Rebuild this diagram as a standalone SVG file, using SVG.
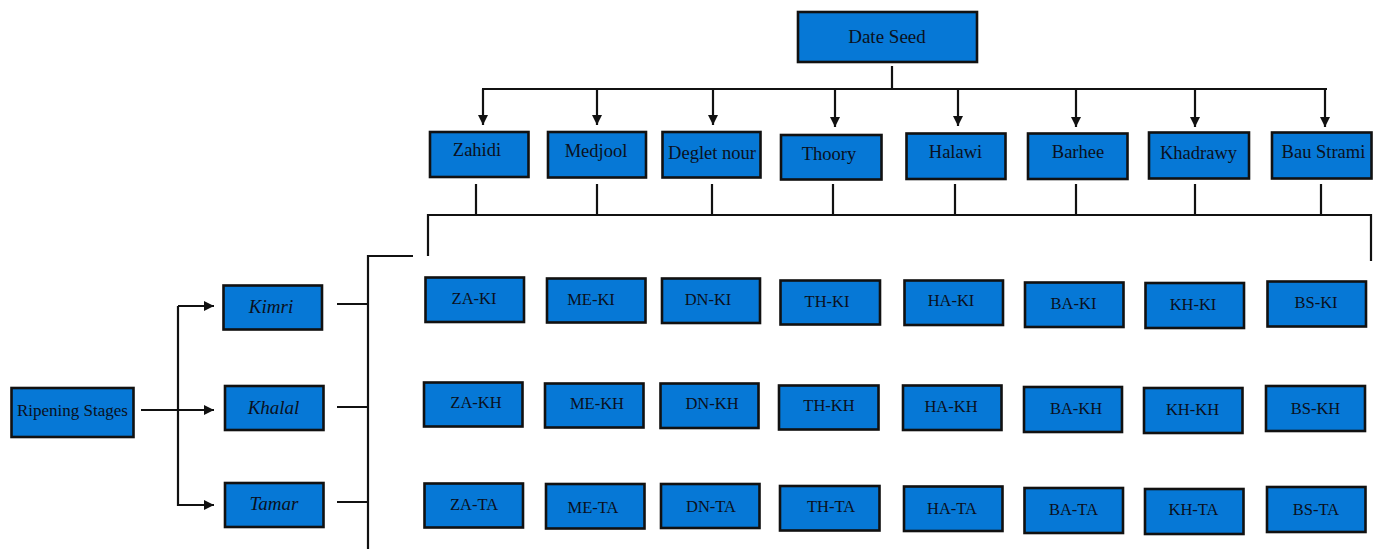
<svg xmlns="http://www.w3.org/2000/svg" width="1378" height="549" viewBox="0 0 1378 549">
<style>
.box{fill:#0678d6;stroke:#111;stroke-width:2.6}
.t{font-family:"Liberation Serif","Times New Roman",serif;fill:#0a1020;text-anchor:middle}
.v{font-size:18.5px}
.g{font-size:16.5px}
.s{font-size:19px;font-style:italic}
.ln{stroke:#111;stroke-width:2.2;fill:none}
</style>
<defs>
<marker id="ah" viewBox="0 0 10 10" refX="10" refY="5" markerWidth="10" markerHeight="10" markerUnits="userSpaceOnUse" orient="auto">
<path d="M0,0 L10,5 L0,10 Z" fill="#111"/>
</marker>
</defs>
<g id="connectors">
<path class="ln" d="M892,66 V89 M482,89 H1327"/>
<path class="ln" marker-end="url(#ah)" d="M483,89 V125"/>
<path class="ln" marker-end="url(#ah)" d="M597,89 V125"/>
<path class="ln" marker-end="url(#ah)" d="M713,89 V125"/>
<path class="ln" marker-end="url(#ah)" d="M835,89 V127"/>
<path class="ln" marker-end="url(#ah)" d="M958,89 V126"/>
<path class="ln" marker-end="url(#ah)" d="M1076,89 V127"/>
<path class="ln" marker-end="url(#ah)" d="M1195,89 V127"/>
<path class="ln" marker-end="url(#ah)" d="M1325,89 V127"/>
<path class="ln" d="M476,184 V215 M597,184 V215 M712,184 V215 M833,184 V215 M955,184 V215 M1076,184 V215 M1195,184 V215 M1321,184 V215"/>
<path class="ln" d="M428,256 V215 H1371 V261"/>
<path class="ln" d="M141,410 H178"/>
<path class="ln" marker-end="url(#ah)" d="M178,410 H214"/>
<path class="ln" marker-end="url(#ah)" d="M178,306 V505 H214"/>
<path class="ln" marker-end="url(#ah)" d="M178,306 H214"/>
<path class="ln" d="M337,304 H368 M337,407 H368 M337,502 H368 M413,256 H368 V549"/>
</g>
<g id="date-seed"><rect class="box" x="798" y="12" width="179" height="50"/><text class="t" x="887" y="43" font-size="19">Date Seed</text></g>
<g id="zahidi"><rect class="box" x="430" y="132" width="98.5" height="45"/><text class="t v" x="477" y="156">Zahidi</text></g>
<g id="medjool"><rect class="box" x="548" y="132" width="98" height="45.5"/><text class="t v" x="596" y="157">Medjool</text></g>
<g id="deglet-nour"><rect class="box" x="662.5" y="132" width="98" height="45.5"/><text class="t v" x="712" y="159">Deglet nour</text></g>
<g id="thoory"><rect class="box" x="781" y="135" width="100.5" height="44.5"/><text class="t v" x="829" y="160">Thoory</text></g>
<g id="halawi"><rect class="box" x="906.5" y="133.5" width="99" height="45.5"/><text class="t v" x="955.5" y="158">Halawi</text></g>
<g id="barhee"><rect class="box" x="1028" y="133.5" width="99.5" height="45.5"/><text class="t v" x="1078" y="158">Barhee</text></g>
<g id="khadrawy"><rect class="box" x="1149" y="132.5" width="100" height="46"/><text class="t v" x="1198.5" y="159">Khadrawy</text></g>
<g id="bau-strami"><rect class="box" x="1272" y="132.5" width="99.5" height="46"/><text class="t v" x="1323.5" y="158">Bau Strami</text></g>
<g id="ripening-stages"><rect class="box" x="11.5" y="388" width="122" height="49"/><text class="t" x="72.5" y="415.5" font-size="17">Ripening Stages</text></g>
<g id="kimri"><rect class="box" x="223.5" y="285.5" width="98.5" height="44"/><text class="t s" x="271" y="313">Kimri</text></g>
<g id="khalal"><rect class="box" x="225" y="386" width="98.5" height="44"/><text class="t s" x="273.5" y="414">Khalal</text></g>
<g id="tamar"><rect class="box" x="225" y="483" width="98.5" height="44"/><text class="t s" x="274" y="510">Tamar</text></g>
<g id="za-ki"><rect class="box" x="425.5" y="277.5" width="98.5" height="44.5"/><text class="t g" x="474" y="304">ZA-KI</text></g>
<g id="me-ki"><rect class="box" x="547" y="278.5" width="98.5" height="44"/><text class="t g" x="591" y="305">ME-KI</text></g>
<g id="dn-ki"><rect class="box" x="662" y="278.5" width="98" height="44.5"/><text class="t g" x="708" y="305">DN-KI</text></g>
<g id="th-ki"><rect class="box" x="780.5" y="280.5" width="99.5" height="44"/><text class="t g" x="827" y="307">TH-KI</text></g>
<g id="ha-ki"><rect class="box" x="904.5" y="280.5" width="98.5" height="44.5"/><text class="t g" x="951" y="306">HA-KI</text></g>
<g id="ba-ki"><rect class="box" x="1025" y="282.5" width="98.5" height="44.5"/><text class="t g" x="1073.5" y="309">BA-KI</text></g>
<g id="kh-ki"><rect class="box" x="1145.5" y="283" width="98.5" height="45"/><text class="t g" x="1193" y="310">KH-KI</text></g>
<g id="bs-ki"><rect class="box" x="1267.5" y="281.5" width="98.5" height="45"/><text class="t g" x="1316" y="308">BS-KI</text></g>
<g id="za-kh"><rect class="box" x="424" y="382.5" width="98.5" height="44"/><text class="t g" x="476" y="408">ZA-KH</text></g>
<g id="me-kh"><rect class="box" x="545" y="383.5" width="98.5" height="44"/><text class="t g" x="597" y="409">ME-KH</text></g>
<g id="dn-kh"><rect class="box" x="660.5" y="383.5" width="98" height="44.5"/><text class="t g" x="712" y="409">DN-KH</text></g>
<g id="th-kh"><rect class="box" x="779" y="385.5" width="99.5" height="44"/><text class="t g" x="829" y="411">TH-KH</text></g>
<g id="ha-kh"><rect class="box" x="903" y="385.5" width="98.5" height="44.5"/><text class="t g" x="951" y="412">HA-KH</text></g>
<g id="ba-kh"><rect class="box" x="1024" y="387" width="98" height="45"/><text class="t g" x="1076" y="414">BA-KH</text></g>
<g id="kh-kh"><rect class="box" x="1144" y="388" width="98.5" height="45"/><text class="t g" x="1192.5" y="415">KH-KH</text></g>
<g id="bs-kh"><rect class="box" x="1266" y="386" width="99" height="45"/><text class="t g" x="1315.5" y="414">BS-KH</text></g>
<g id="za-ta"><rect class="box" x="424.5" y="483.5" width="98.5" height="44"/><text class="t g" x="474" y="510">ZA-TA</text></g>
<g id="me-ta"><rect class="box" x="546" y="484" width="98.5" height="44.5"/><text class="t g" x="593" y="513">ME-TA</text></g>
<g id="dn-ta"><rect class="box" x="661" y="484" width="98.5" height="44"/><text class="t g" x="711" y="512">DN-TA</text></g>
<g id="th-ta"><rect class="box" x="780" y="486" width="99.5" height="44.5"/><text class="t g" x="831" y="512">TH-TA</text></g>
<g id="ha-ta"><rect class="box" x="904" y="486.5" width="98.5" height="44.5"/><text class="t g" x="952" y="514">HA-TA</text></g>
<g id="ba-ta"><rect class="box" x="1024.5" y="488" width="98.5" height="45"/><text class="t g" x="1073.5" y="515">BA-TA</text></g>
<g id="kh-ta"><rect class="box" x="1145" y="489" width="98.5" height="45"/><text class="t g" x="1193.5" y="515">KH-TA</text></g>
<g id="bs-ta"><rect class="box" x="1267" y="487" width="98.5" height="45"/><text class="t g" x="1316" y="515">BS-TA</text></g>
</svg>
